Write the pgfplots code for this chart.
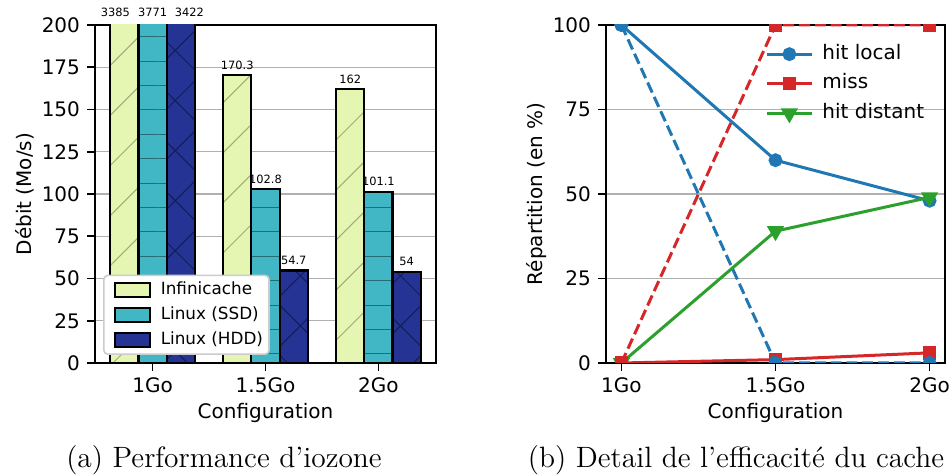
\documentclass[border=0pt]{standalone}
\usepackage{fontspec}
\setsansfont{DejaVu Sans}
\usepackage{pgfplots}
\pgfplotsset{compat=1.18}
\usepackage{pgfplotstable}
\usetikzlibrary{patterns.meta}
\definecolor{cinf}{HTML}{E5F5B2}
\definecolor{cssd}{HTML}{41B6C4}
\definecolor{chdd}{HTML}{253494}
\definecolor{tblue}{HTML}{1F77B4}
\definecolor{tred}{HTML}{D62728}
\definecolor{tgreen}{HTML}{2CA02C}
\definecolor{gridc}{HTML}{B0B0B0}

\pgfplotstableread{
x inf ssd hdd dinf dssd dhdd
0 3385 3771 3422 200 200 200
1 170.3 102.8 54.7 170.3 102.8 54.7
2 162 101.1 54 162 101.1 54
}\iozone

\pgfplotstableread{
x local miss distant localalt missalt
0 100 0 0 100 0
1 60 1 39 0 100
2 48 3 49 0 100
}\cache

\pgfplotsset{
  common/.style={
    scale only axis,
    anchor=south west,
    height=169pt,
    font=\sffamily\fontsize{10}{12}\selectfont,
    /pgf/number format/assume math mode=true,
    tick align=outside,
    major tick length=4pt,
    xtick pos=bottom, ytick pos=left,
    axis line style={line width=0.9pt},
    major tick style={line width=0.9pt, black},
    ymajorgrids,
    grid style={gridc, line width=0.7pt},
    xtick={0,1,2},
    xticklabels={1Go,1.5Go,2Go},
    ymin=0,
    xlabel={Configuration},
    xlabel style={at={(axis description cs:0.5,-0.148)}, anchor=center},
  },
  barlab/.style 2 args={draw=none, mark=none, forget plot,
    nodes near coords, point meta=explicit symbolic,
    every node near coord/.append style={font=\sffamily\fontsize{5.7}{6}\selectfont, anchor=south, inner sep=0pt, yshift=#2, black, xshift=#1}},
}

\begin{document}
\begin{tikzpicture}
\path[use as bounding box] (0,0) rectangle (475pt,238pt);

% ---------- (a) ----------
\begin{axis}[common,
  at={(47.5pt,56.5pt)}, width=170.5pt,
  xmin=-0.51, xmax=2.51, ymax=200,
  ytick={0,25,...,200},
  ylabel={Débit (Mo/s)},
  ylabel style={at={(axis description cs:-0.205,0.5)}, rotate=0, anchor=center},
  legend image code/.code={\path (-2pt,0pt) (22.5pt,0pt); \draw[#1] (0pt,-3.5pt) rectangle (17.5pt,3.5pt);},
  legend cell align=left,
  legend style={at={(axis description cs:0.0235,0.0237)}, anchor=south west,
    fill=white, draw=black!20, line width=0.8pt, rounded corners=2pt,
    inner xsep=3pt, inner ysep=3.2pt, row sep=4.5pt,
    font=\sffamily\fontsize{8.4}{10}\selectfont,
    nodes={inner xsep=0pt, inner ysep=0pt, text height=6.2pt, text depth=1.8pt}},
]
\addplot[ybar, bar width=0.25, bar shift=-0.25, fill=cinf, draw=black, line width=1.1pt,
  postaction={pattern={Lines[angle=45,distance=17.7pt,line width=0.5pt]}, pattern color=black!30!cinf},
  forget plot] table[x=x,y=inf]{\iozone};
\addplot[ybar, bar width=0.25, bar shift=0, fill=cssd, draw=black, line width=1.1pt,
  postaction={pattern={Lines[angle=0,distance=12.2pt,line width=0.5pt]}, pattern color=black!40!cssd},
  forget plot] table[x=x,y=ssd]{\iozone};
\addplot[ybar, bar width=0.25, bar shift=0.25, fill=chdd, draw=black, line width=1.1pt,
  postaction={pattern={Lines[angle=45,distance=17.7pt,line width=0.5pt]}, pattern color=black!45!chdd},
  postaction={pattern={Lines[angle=-45,distance=17.7pt,line width=0.5pt]}, pattern color=black!45!chdd},
  forget plot] table[x=x,y=hdd]{\iozone};
% labels of the groups 1.5Go and 2Go
\addplot[barlab={-14.11pt}{2.8pt}, skip coords between index={0}{1}] table[x=x,y=dinf,meta=inf]{\iozone};
\addplot[barlab={0pt}{2.8pt}, skip coords between index={0}{1}] table[x=x,y=dssd,meta=ssd]{\iozone};
\addplot[barlab={14.11pt}{2.8pt}, skip coords between index={0}{1}] table[x=x,y=dhdd,meta=hdd]{\iozone};
% labels of the clipped bars (1Go)
\addplot[barlab={-18.6pt}{3.8pt}, skip coords between index={1}{3}] table[x=x,y=dinf,meta=inf]{\iozone};
\addplot[barlab={0pt}{3.8pt}, skip coords between index={1}{3}] table[x=x,y=dssd,meta=ssd]{\iozone};
\addplot[barlab={18.4pt}{3.8pt}, skip coords between index={1}{3}] table[x=x,y=dhdd,meta=hdd]{\iozone};
\addlegendimage{fill=cinf, draw=black, line width=1pt, sharp corners}
\addlegendentry{Infinicache}
\addlegendimage{fill=cssd, draw=black, line width=1pt, sharp corners}
\addlegendentry{Linux (SSD)}
\addlegendimage{fill=chdd, draw=black, line width=1pt, sharp corners}
\addlegendentry{Linux (HDD)}
\end{axis}

% ---------- (b) ----------
\begin{axis}[common,
  at={(303pt,56.5pt)}, width=169.5pt,
  xmin=-0.1, xmax=2.1, ymax=100,
  ytick={0,25,50,75,100},
  ylabel={Répartition (en \%)},
  ylabel style={at={(axis description cs:-0.2035,0.5)}, rotate=0, anchor=center},
  clip marker paths=true,
  legend image code/.code={\path (0pt,0pt) (27pt,0pt); \draw[mark repeat=2,mark phase=2,#1] plot coordinates {(0pt,0pt) (11.25pt,0pt) (22.5pt,0pt)};},
  legend cell align=left,
  legend style={at={(axis description cs:0.469,0.943)}, anchor=north west,
    draw=none, fill=none, inner sep=0pt, row sep=5.3pt,
    font=\sffamily\fontsize{10}{12}\selectfont,
    nodes={inner xsep=0pt, inner ysep=0pt, text height=7.3pt, text depth=2.2pt}},
]
\addplot[tblue, line width=1.5pt, mark=*, mark size=2.7pt] table[x=x,y=local]{\cache};
\addlegendentry{hit local}
\addplot[tred, line width=1.5pt, mark=square*, mark size=2.6pt] table[x=x,y=miss]{\cache};
\addlegendentry{miss}
\addplot[tgreen, line width=1.5pt, mark=triangle*, mark size=3.5pt, mark options={rotate=180}] table[x=x,y=distant]{\cache};
\addlegendentry{hit distant}
\addplot[tblue, line width=1.5pt, dash pattern=on 5.5pt off 2.4pt, mark=*, mark size=2.7pt, mark options={solid}, forget plot] table[x=x,y=localalt]{\cache};
\addplot[tred, line width=1.5pt, dash pattern=on 5.5pt off 2.4pt, mark=square*, mark size=2.6pt, mark options={solid}, forget plot] table[x=x,y=missalt]{\cache};
\end{axis}

\node[font=\fontsize{14.7}{17}\selectfont, anchor=base] at (112pt,4pt) {(a) Performance d'iozone};
\node[font=\fontsize{14.7}{17}\selectfont, anchor=base] at (368pt,4pt) {(b) Detail de l'efficacité du cache};
\end{tikzpicture}
\end{document}
